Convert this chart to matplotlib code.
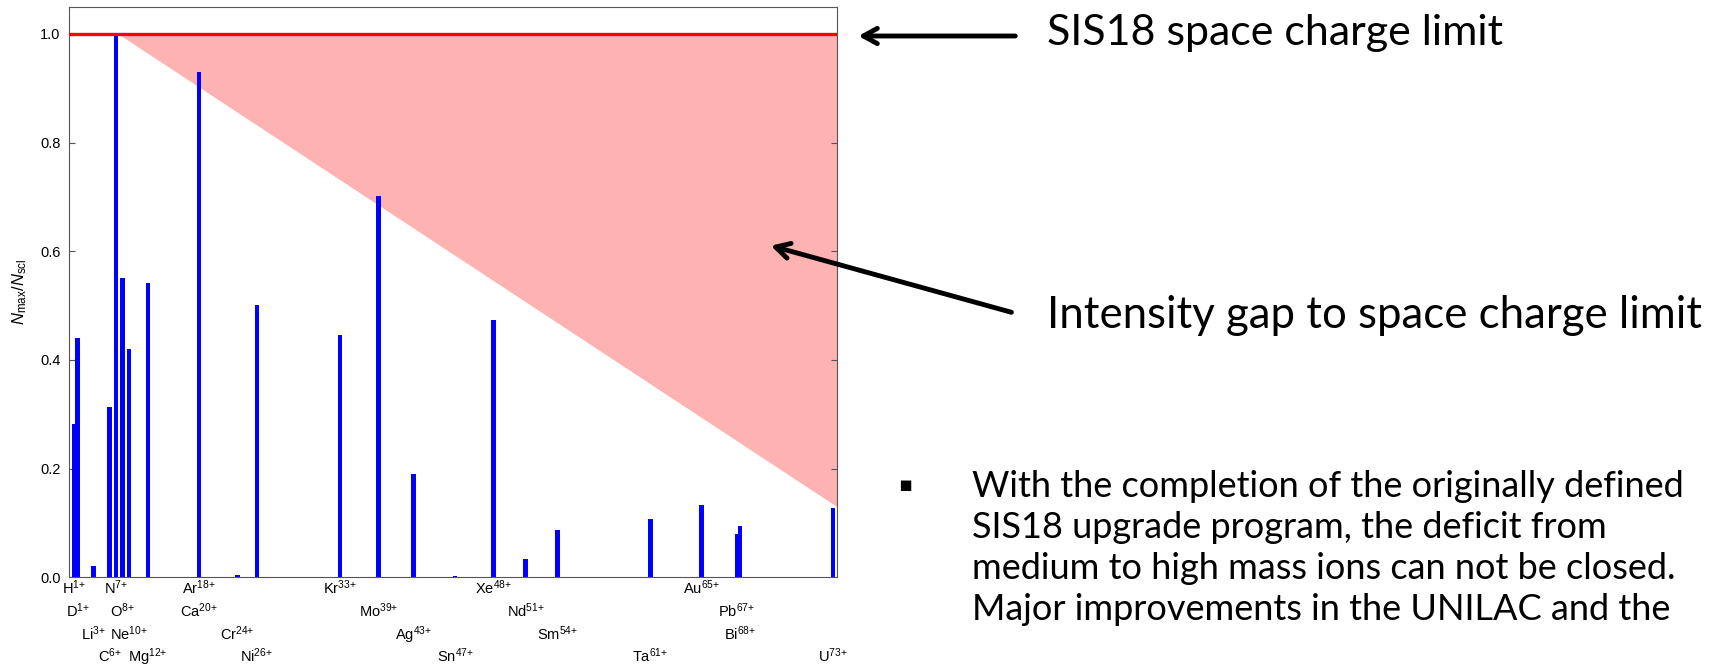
import matplotlib
matplotlib.use("Agg")
import matplotlib.pyplot as plt

plt.rcParams["font.family"] = ["Liberation Sans", "DejaVu Sans"]
plt.rcParams["mathtext.fontset"] = "custom"
plt.rcParams["mathtext.rm"] = "Liberation Sans"
plt.rcParams["mathtext.it"] = "Liberation Sans:italic"
plt.rcParams["mathtext.bf"] = "Liberation Sans:bold"

# Ion species delivered to SIS18: symbol, charge state, mass number, N_max / N_scl
ions = ["H", "D", "Li", "C", "N", "O", "Ne", "Mg", "Ar", "Ca", "Cr", "Ni",
        "Kr", "Mo", "Ag", "Sn", "Xe", "Nd", "Sm", "Ta", "Au", "Pb", "Bi", "U"]
charge = [1, 1, 3, 6, 7, 8, 10, 12, 18, 20, 24, 26,
          33, 39, 43, 47, 48, 51, 54, 61, 65, 67, 68, 73]
mass = [1, 2, 7, 12, 14, 16, 18, 24, 40, 40, 52, 58,
        84, 96, 107, 120, 132, 142, 152, 181, 197, 208, 209, 238]
ratio = [0.283, 0.441, 0.021, 0.314, 1.0, 0.55, 0.421, 0.541, 0.929, 0.90, 0.004, 0.501,
         0.446, 0.702, 0.191, 0.003, 0.474, 0.033, 0.087, 0.107, 0.134, 0.079, 0.094, 0.128]

# edge of the intensity gap: from the best ion (N) down to the heaviest (U)
gap_x = [15.4, 240]
gap_y = [1.0, 0.13]

fig = plt.figure(figsize=(17.32, 6.69), dpi=100)
ax = fig.add_axes([0.0398, 0.137, 0.4435, 0.853])

ax.fill_between(gap_x, gap_y, 1.0, color="red", alpha=0.3, lw=0, zorder=1)
ax.bar(mass, ratio, width=1.4, align="edge", color="#0000ff", lw=0, zorder=2)
ax.axhline(1.0, color="red", lw=2.4, zorder=3)

ax.set_xlim(0, 240)
ax.set_ylim(0, 1.05)
ax.set_xticks([])
ax.set_yticks([0.0, 0.2, 0.4, 0.6, 0.8, 1.0])
ax.set_yticklabels(["0.0", "0.2", "0.4", "0.6", "0.8", "1.0"])
ax.tick_params(axis="y", direction="in", right=True, length=4, labelsize=10.5,
               color="#555555", pad=6)
for s in ax.spines.values():
    s.set_color("#555555")
ax.set_ylabel(r"$N_{\mathrm{max}}/N_{\mathrm{scl}}$", fontsize=12, labelpad=8)

# staggered ion labels under the bars
for i, (name, q, a) in enumerate(zip(ions, charge, mass)):
    ax.annotate(name + r"$^{\text{%d+}}$" % q, xy=(a + 0.7, 0),
                xycoords=("data", "axes fraction"),
                xytext=(0, -1 - 16.3 * (i % 4)), textcoords="offset points",
                ha="center", va="top", fontsize=10.5)

# annotations on the right
txt_font = ["Lato", "DejaVu Sans"]
fig.text(0.6045, 0.951, "SIS18 space charge limit", fontsize=31,
         family=txt_font, va="center", ha="left")
fig.text(0.6045, 0.529, "Intensity gap to space charge limit", fontsize=31.5,
         family=txt_font, va="center", ha="left")
ax.annotate("", xy=(0.494, 0.9462), xycoords="figure fraction",
            xytext=(0.5878, 0.9462), textcoords="figure fraction",
            arrowprops=dict(arrowstyle="->,head_length=1.0,head_width=0.55",
                            lw=3.5, color="black"))
ax.annotate("", xy=(0.4435, 0.6338), xycoords="figure fraction",
            xytext=(0.5855, 0.5321), textcoords="figure fraction",
            arrowprops=dict(arrowstyle="->,head_length=1.0,head_width=0.55",
                            lw=3.5, color="black"))

fig.text(0.5225, 0.2755, "\u25aa", fontsize=15, family=["DejaVu Sans"],
         va="center", ha="center")
lines = ["With the completion of the originally defined",
         "SIS18 upgrade program, the deficit from",
         "medium to high mass ions can not be closed.",
         "Major improvements in the UNILAC and the"]
for k, line in enumerate(lines):
    fig.text(0.5612, 0.2735 - 0.0613 * k, line, fontsize=26,
             family=txt_font, va="center", ha="left")

fig.savefig("out.png", dpi=100)
